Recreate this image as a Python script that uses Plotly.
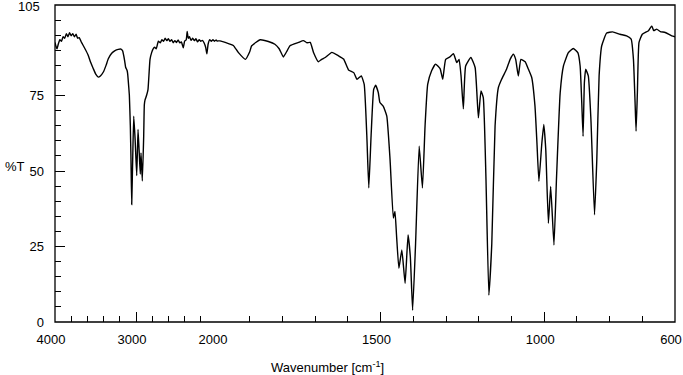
import plotly.graph_objects as go

# Wavenumber (cm-1) and transmittance (%T)
wavenumber = [
    4000, 3990, 3975, 3960, 3940, 3920, 3900, 3880, 3860, 3840, 3820, 3800, 3780, 3760,
    3740, 3720, 3700, 3680, 3660, 3620, 3589, 3560, 3527, 3495, 3465, 3440, 3403, 3370,
    3342, 3300, 3259, 3220, 3185, 3165, 3156, 3140, 3128, 3110, 3103, 3090, 3082, 3070,
    3062, 3053, 3040, 3028, 3010, 2991, 2975, 2960, 2947, 2938, 2922, 2905, 2897, 2889,
    2870, 2852, 2827, 2806, 2790, 2770, 2750, 2724, 2700, 2680, 2660, 2640, 2620, 2600,
    2580, 2560, 2540, 2520, 2500, 2480, 2460, 2440, 2416, 2400, 2380, 2368, 2355, 2340,
    2320, 2300, 2280, 2260, 2240, 2220, 2200, 2180, 2160, 2140, 2125, 2110, 2090, 2070,
    2050, 2030, 2010, 2000,
    1991, 1965, 1950, 1935, 1913, 1900, 1894, 1868, 1843, 1823, 1810, 1797, 1785, 1777,
    1751, 1736, 1725, 1715, 1705, 1690, 1680, 1669, 1649, 1629, 1613, 1598, 1582, 1572,
    1559, 1550, 1542, 1536, 1529, 1521, 1515, 1507, 1502, 1492, 1481, 1471, 1461, 1456,
    1451, 1444, 1435, 1425, 1416, 1409, 1402, 1393, 1382, 1372, 1364, 1356, 1344, 1332,
    1318, 1310, 1301, 1288, 1277, 1267, 1260, 1254, 1247, 1240, 1224, 1211, 1201, 1193,
    1186, 1178, 1169, 1160, 1150, 1140, 1130, 1115, 1104, 1094, 1087, 1079, 1071, 1058,
    1048, 1038, 1028, 1022, 1016, 1007, 1001, 995, 987, 980, 970, 962, 951, 941,
    926, 911, 897, 890, 885, 881, 877, 873, 865, 857, 846, 839, 832, 824,
    809, 791, 768, 748, 734, 727, 722, 719, 715, 710, 700, 681, 671, 665,
    656, 645, 630, 610, 600,
]
transmittance = [
    92.6, 91.5, 90.5, 92.0, 93.5, 93.0, 94.5, 94.0, 95.5, 94.5, 95.8, 94.8, 95.5, 94.5,
    95.3, 94.0, 94.2, 93.0, 92.0, 90.0, 88.3, 86.0, 83.9, 82.0, 81.1, 81.5, 82.8, 85.0,
    87.2, 89.0, 89.9, 90.3, 90.4, 89.8, 88.8, 86.5, 84.4, 83.3, 82.2, 78.0, 75.0, 65.0,
    54.0, 38.9, 55.0, 68.2, 60.0, 48.5, 63.8, 56.0, 49.0, 56.0, 46.7, 61.7, 72.0, 73.5,
    75.0, 77.0, 87.0, 89.3, 90.4, 91.0, 90.5, 93.0, 92.5, 93.5, 93.0, 94.0, 93.2, 93.8,
    93.0, 93.5, 92.5, 93.2, 92.6, 93.4, 92.5, 92.8, 90.8, 93.0, 93.5, 96.2, 94.0, 94.5,
    93.3, 94.0, 93.2, 93.8, 92.8, 93.5, 93.0, 93.3, 92.5, 91.0, 88.8, 92.0, 93.5, 93.0,
    93.5, 93.0, 93.4, 93.1,
    93.1, 92.2, 91.6, 89.3, 87.0, 89.5, 91.5, 93.5, 92.9, 92.0, 90.5, 87.8, 90.0, 91.5,
    92.6, 93.2, 92.5, 92.6, 89.3, 86.2, 87.0, 87.6, 89.3, 88.2, 87.1, 83.5, 82.6, 80.4,
    81.5, 78.7, 61.6, 44.4, 61.6, 77.1, 78.4, 76.0, 72.7, 71.5, 68.2, 53.8, 34.4, 36.6,
    28.3, 17.8, 23.9, 12.8, 28.8, 21.6, 3.9, 26.0, 58.2, 44.4, 64.9, 78.7, 83.2, 85.4,
    83.9, 80.4, 87.0, 87.8, 88.9, 85.9, 87.0, 81.5, 70.6, 84.8, 87.6, 84.3, 67.6, 76.5,
    74.3, 48.2, 8.9, 26.0, 64.9, 77.6, 80.4, 83.7, 87.0, 88.7, 87.0, 81.5, 87.0, 86.2,
    83.7, 81.0, 71.5, 59.3, 46.6, 59.3, 65.4, 57.0, 32.7, 44.9, 25.5, 48.2, 75.9, 84.8,
    89.2, 90.6, 89.2, 84.8, 72.6, 61.5, 79.3, 83.7, 81.5, 67.1, 35.5, 53.8, 81.5, 91.5,
    95.7, 96.1, 95.3, 94.8, 93.7, 87.0, 72.6, 63.2, 75.9, 92.6, 95.3, 96.5, 98.1, 96.5,
    97.0, 96.2, 95.9, 94.8, 94.5,
]

y_tick_values = [0, 25, 50, 75]
y_tick_labels = ["0", "25", "50", "75"]
y_top_label = "105"
x_high_ticks = [4000, 3000, 2000]
x_high_labels = ["4000", "3000", "2000"]
x_low_ticks = [1500, 1000, 600]
x_low_labels = ["1500", "1000", "600"]

FONT = "Liberation Sans, Arial, sans-serif"
split = 162 / 620

fig = go.Figure()
line = dict(color="black", width=1.4, shape="spline", smoothing=0.4)
fig.add_trace(go.Scatter(x=wavenumber, y=transmittance, mode="lines", line=line,
                         xaxis="x", yaxis="y", showlegend=False, hoverinfo="skip"))
fig.add_trace(go.Scatter(x=wavenumber, y=transmittance, mode="lines", line=line,
                         xaxis="x2", yaxis="y", showlegend=False, hoverinfo="skip"))

common_x = dict(
    showgrid=False, zeroline=False, showline=False, automargin=False,
    ticks="inside", ticklen=10, tickwidth=1.2, tickcolor="black",
    tickfont=dict(family=FONT, size=13, color="black"),
    ticklabelstandoff=8, ticklabelshift=4, ticklabeloverflow="allow",
    anchor="y",
)
fig.update_layout(
    width=683, height=375,
    margin=dict(l=55, r=8, t=5, b=53, autoexpand=False),
    paper_bgcolor="white", plot_bgcolor="white",
    xaxis=dict(domain=[0, split], range=[4000, 2000], tickmode="array",
               tickvals=x_high_ticks, ticktext=x_high_labels,
               minor=dict(dtick=200, tick0=0, ticks="inside", ticklen=6,
                          tickwidth=1.2, tickcolor="black", showgrid=False),
               **common_x),
    xaxis2=dict(domain=[split, 1], range=[2000, 600], tickmode="array",
                tickvals=x_low_ticks, ticktext=x_low_labels,
                minor=dict(dtick=100, tick0=0, ticks="inside", ticklen=6,
                           tickwidth=1.2, tickcolor="black", showgrid=False),
                **common_x),
    yaxis=dict(range=[0, 105], showgrid=False, zeroline=False, showline=False,
               automargin=False, ticklabeloverflow="allow",
               tickmode="array", tickvals=y_tick_values, ticktext=y_tick_labels,
               ticks="inside", ticklen=10, tickwidth=1.2, tickcolor="black",
               minor=dict(dtick=5, tick0=0, ticks="inside", ticklen=6,
                          tickwidth=1.2, tickcolor="black", showgrid=False),
               tickfont=dict(family=FONT, size=13, color="black"),
               ticklabelstandoff=10, anchor="x"),
    shapes=[dict(type="rect", xref="paper", yref="paper", x0=0, x1=1, y0=0, y1=1,
                 line=dict(color="black", width=1.3), fillcolor="rgba(0,0,0,0)")],
    annotations=[
        dict(text=y_top_label, xref="paper", yref="paper", x=-0.021, y=0.996,
             xanchor="right", yanchor="middle", showarrow=False,
             font=dict(family=FONT, size=13, color="black")),
        dict(text="Wavenumber [cm<sup>-1</sup>]", xref="paper", yref="paper",
             x=0.44, y=-0.142, xanchor="center", yanchor="middle", showarrow=False,
             font=dict(family=FONT, size=13, color="black")),
        dict(text="%T", xref="paper", yref="paper", x=-0.065, y=0.492,
             xanchor="center", yanchor="middle", showarrow=False,
             font=dict(family=FONT, size=13, color="black")),
    ],
)

fig.write_html("out.html",
               config={"displayModeBar": False},
               post_script="document.body.style.margin='0';document.body.style.padding='0';")
